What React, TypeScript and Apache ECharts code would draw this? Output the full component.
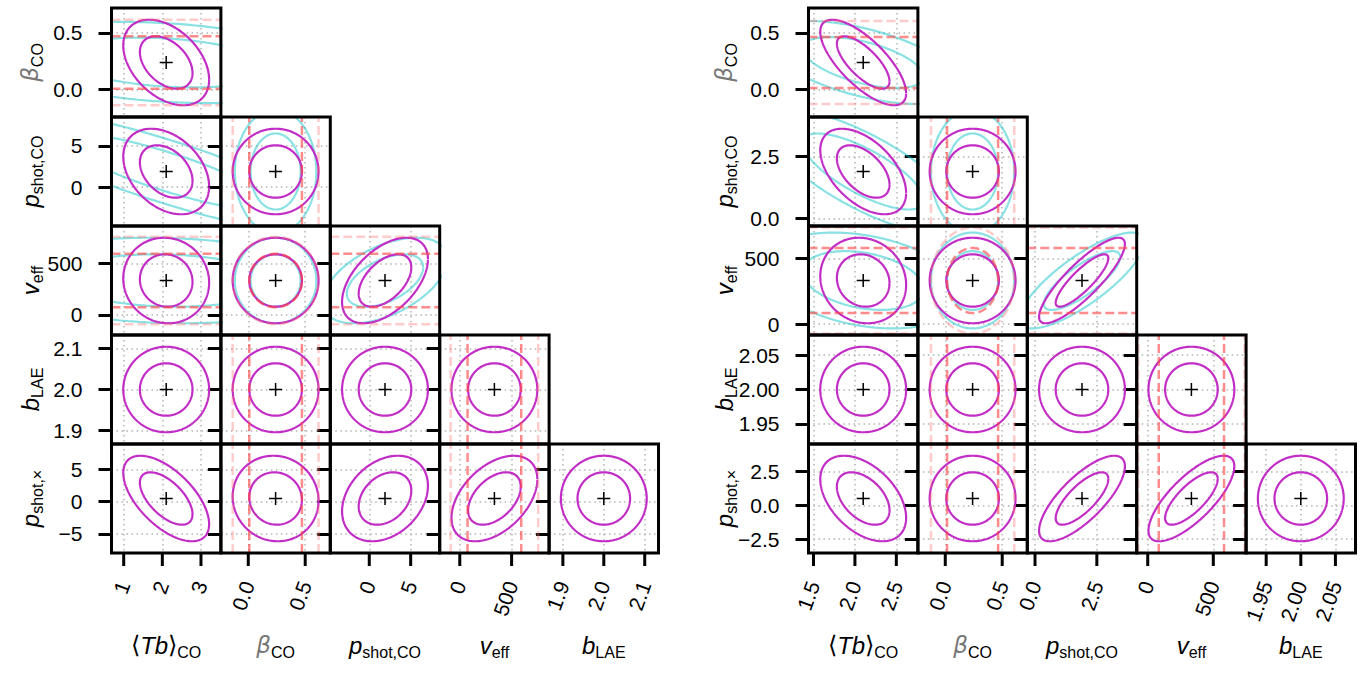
import React, { useEffect, useRef } from "react";
import * as echarts from "echarts";

// ---------------- data ----------------
// parameter order: <Tb>_CO, beta_CO, p_shot,CO, v_eff, b_LAE, p_shot,x
const leftFiducial = [2.1, 0.24, 1.9, 334, 2.0, 0.5];
const leftSigma = [0.448, 0.152, 2.09, 167, 0.0423, 2.69];
const leftCorr = [
  [-0.4],
  [-0.35, 0.0],
  [-0.05, 0.0, 0.5],
  [0.0, 0.0, 0.0, 0.0],
  [-0.6, -0.05, 0.3, 0.45, 0.0],
];
const leftCyanScale = [4.0, 0.95, 1.45, 1.0];
const leftCyanCorr = [[-0.25], [-0.85, 0.0], [-0.1, 0.0, 0.5]];
const leftRedScale = [null, 1.0, null, 1.02, null, null];
const leftTicks = [[1, 2, 3], [0, 0.5], [0, 5], [0, 500], [1.9, 2.0, 2.1], [-5, 0, 5]];
const leftTickLabels = [
  ["1", "2", "3"],
  ["0.0", "0.5"],
  ["0", "5"],
  ["0", "500"],
  ["1.9", "2.0", "2.1"],
  ["\u22125", "0", "5"],
];

const rightFiducial = [2.1, 0.24, 1.9, 333, 2.0, 0.5];
const rightSigma = [0.209, 0.152, 0.7, 132, 0.025, 1.275];
const rightCorr = [
  [-0.72],
  [-0.5, 0.0],
  [-0.1, 0.0, 0.85],
  [0.0, 0.0, 0.0, 0.0],
  [-0.45, 0.0, 0.75, 0.75, 0.0],
];
const rightCyanScale = [2.3, 0.97, 1.45, 1.12];
const rightCyanCorr = [[-0.55], [-0.75, 0.0], [-0.3, 0.0, 0.8]];
const rightRedScale = [null, 0.97, null, 1.24, null, null];
const rightTicks = [[1.5, 2.0, 2.5], [0, 0.5], [0, 2.5], [0, 500], [1.95, 2.0, 2.05], [-2.5, 0, 2.5]];
const rightTickLabels = [
  ["1.5", "2.0", "2.5"],
  ["0.0", "0.5"],
  ["0.0", "2.5"],
  ["0", "500"],
  ["1.95", "2.00", "2.05"],
  ["\u22122.5", "0.0", "2.5"],
];

const contourLevels = [1.52, 2.48];

// ---------------- layout / style ----------------
const FONT = '"Liberation Sans", Arial, Helvetica, sans-serif';
const TRI_LEFT = [111.5, 808.5];
const ROW_TOP = 8;
const CELL_W = 109.4;
const CELL_H = 109;
const RANGE_K = 3.16;
const YTITLE_X = [30, 724];
const XTITLE_Y = 645;
const TICK_LEN = 13;

const MAGENTA = "#c22dc6";
const CYAN = "rgba(20,195,200,0.5)";
const RED_IN = "rgba(255,70,70,0.62)";
const RED_OUT = "rgba(255,110,110,0.35)";

const triangles = [
  {
    fid: leftFiducial, sig: leftSigma, corr: leftCorr, cyanScale: leftCyanScale,
    cyanCorr: leftCyanCorr, redScale: leftRedScale, ticks: leftTicks, labels: leftTickLabels,
  },
  {
    fid: rightFiducial, sig: rightSigma, corr: rightCorr, cyanScale: rightCyanScale,
    cyanCorr: rightCyanCorr, redScale: rightRedScale, ticks: rightTicks, labels: rightTickLabels,
  },
];

const richStyles: any = {
  n: { fontSize: 24, fontFamily: '"DejaVu Sans", sans-serif', fontWeight: 200, fill: "#000", color: "#000", lineHeight: 34 },
  m: { fontSize: 24, fontFamily: FONT, fontStyle: "italic", fill: "#000", color: "#000", lineHeight: 34 },
  g: { fontSize: 23, fontFamily: '"DejaVu Sans", sans-serif', fontStyle: "italic", fontWeight: 200, fill: "#777", color: "#777", lineHeight: 34 },
  s: { fontSize: 16, fontFamily: FONT, fill: "#000", color: "#000", lineHeight: 17, padding: [15, 0, 0, 0] },
};
const paramTitles = [
  "{n|\u27E8}{m|Tb}{n|\u27E9}{s|CO}",
  "{g|\u03B2}{s|CO}",
  "{m|p}{s|shot,CO}",
  "{m|v}{s|eff}",
  "{m|b}{s|LAE}",
  "{m|p}{s|shot,\u00D7}",
];

function axisRange(tri: any, p: number): [number, number] {
  return [tri.fid[p] - RANGE_K * tri.sig[p], tri.fid[p] + RANGE_K * tri.sig[p]];
}

function axisCfg(tri: any, p: number, g: number, dim: "x" | "y", labelled: boolean) {
  const [lo, hi] = axisRange(tri, p);
  const ticks = tri.ticks[p];
  const labels = tri.labels[p];
  const fmt = (v: number) => {
    let best = 0;
    for (let i = 1; i < ticks.length; i++) {
      if (Math.abs(ticks[i] - v) < Math.abs(ticks[best] - v)) best = i;
    }
    return labels[best];
  };
  return {
    type: "value",
    gridIndex: g,
    min: lo,
    max: hi,
    z: 1,
    position: dim === "x" ? "bottom" : "left",
    axisLine: { show: false, onZero: false },
    axisTick: {
      show: dim === "y",
      inside: false,
      length: TICK_LEN,
      customValues: ticks,
      lineStyle: { color: "#000", width: 3 },
    },
    axisLabel: {
      show: labelled,
      customValues: ticks,
      formatter: fmt,
      margin: 29,
      rotate: dim === "x" ? 70 : 0,
      fontSize: 21,
      fontFamily: FONT,
      color: "#000",
    },
    splitLine: {
      show: true,
      lineStyle: { color: "#b4b4b4", width: 1.5, type: [1.5, 3.5] },
    },
  };
}

function ellipse(g: number, cx: number, cy: number, sx: number, sy: number, rho: number, k: number,
  color: string, width: number, dash: any, z: number) {
  const pts: number[][] = [];
  const n = 360;
  const c = Math.sqrt(1 - rho * rho);
  for (let s = 0; s <= n; s++) {
    const th = (2 * Math.PI * s) / n;
    const u = Math.cos(th);
    const v = Math.sin(th);
    pts.push([cx + k * sx * u, cy + k * sy * (rho * u + c * v)]);
  }
  return {
    type: "line", xAxisIndex: g, yAxisIndex: g, data: pts, showSymbol: false, symbol: "none",
    silent: true, clip: true, z, lineStyle: { color, width, type: dash }, animation: false,
  };
}

function segment(g: number, a: number[], b: number[], color: string, width: number, dash: any, z: number) {
  return {
    type: "line", xAxisIndex: g, yAxisIndex: g, data: [a, b], showSymbol: false, symbol: "none",
    silent: true, clip: true, z, lineStyle: { color, width, type: dash }, animation: false,
  };
}

function panels() {
  const out: number[][] = [];
  let g = 0;
  triangles.forEach((_tri, t) => {
    for (let i = 0; i < 5; i++) {
      for (let j = 0; j <= i; j++) {
        out.push([t, i, j, g]);
        g++;
      }
    }
  });
  return out;
}

function buildOption() {
  const grid: any[] = [];
  const xAxis: any[] = [];
  const yAxis: any[] = [];
  const series: any[] = [];
  const graphic: any[] = [];
  const DASH = [9, 4];

  panels().forEach(([t, i, j, g]) => {
    const tri = triangles[t];
    const yp = i + 1;
    const xp = j;
    grid.push({
      left: TRI_LEFT[t] + j * CELL_W, top: ROW_TOP + i * CELL_H, width: CELL_W, height: CELL_H,
      show: true, borderColor: "#000", borderWidth: 3, backgroundColor: "transparent",
      z: 10, containLabel: false, outerBoundsMode: "none",
    });
    xAxis.push(axisCfg(tri, xp, g, "x", i === 4));
    yAxis.push(axisCfg(tri, yp, g, "y", j === 0));
    const cx = tri.fid[xp];
    const cy = tri.fid[yp];
    const [xlo, xhi] = axisRange(tri, xp);
    const [ylo, yhi] = axisRange(tri, yp);
    if (yp <= 3 && xp <= 3) {
      const r = tri.cyanCorr[yp - 1][xp];
      contourLevels.forEach((k) => {
        series.push(ellipse(g, cx, cy, tri.cyanScale[xp] * tri.sig[xp], tri.cyanScale[yp] * tri.sig[yp], r, k, CYAN, 2.2, "solid", 2));
      });
    }
    const rm = tri.corr[yp - 1][xp];
    contourLevels.forEach((k) => {
      series.push(ellipse(g, cx, cy, tri.sig[xp], tri.sig[yp], rm, k, MAGENTA, 2.2, "solid", 3));
    });
    const rx = tri.redScale[xp];
    const ry = tri.redScale[yp];
    contourLevels.forEach((k, li) => {
      const col = li === 0 ? RED_IN : RED_OUT;
      if (rx != null && ry != null) {
        series.push(ellipse(g, cx, cy, rx * tri.sig[xp], ry * tri.sig[yp], 0, k, col, 2.5, DASH, 4));
      } else if (ry != null) {
        const d = k * ry * tri.sig[yp];
        series.push(segment(g, [xlo, cy + d], [xhi, cy + d], col, 2.5, DASH, 4));
        series.push(segment(g, [xlo, cy - d], [xhi, cy - d], col, 2.5, DASH, 4));
      } else if (rx != null) {
        const d = k * rx * tri.sig[xp];
        series.push(segment(g, [cx + d, ylo], [cx + d, yhi], col, 2.5, DASH, 4));
        series.push(segment(g, [cx - d, ylo], [cx - d, yhi], col, 2.5, DASH, 4));
      }
    });
    series.push({
      type: "scatter", xAxisIndex: g, yAxisIndex: g, data: [[cx, cy]], silent: true, z: 6,
      symbol: "path://M0,6L12,6M6,0L6,12", symbolSize: 13,
      itemStyle: { color: "none", borderColor: "#000", borderWidth: 1.5, opacity: 1 },
    });
  });

  triangles.forEach((_tri, t) => {
    for (let p = 0; p < 5; p++) {
      graphic.push({
        type: "text", x: TRI_LEFT[t] + (p + 0.5) * CELL_W, y: XTITLE_Y, silent: true,
        style: {
          text: paramTitles[p], rich: richStyles, align: "center", verticalAlign: "middle",
          textAlign: "center", textVerticalAlign: "middle", fill: "#000",
        },
      });
    }
    for (let p = 1; p < 6; p++) {
      graphic.push({
        type: "text", x: YTITLE_X[t], y: ROW_TOP + (p - 0.5) * CELL_H, rotation: Math.PI / 2, silent: true,
        style: {
          text: paramTitles[p], rich: richStyles, align: "center", verticalAlign: "middle",
          textAlign: "center", textVerticalAlign: "middle", fill: "#000",
        },
      });
    }
  });

  return {
    animation: false,
    backgroundColor: "#fff",
    grid, xAxis, yAxis, series, graphic,
  };
}

export default function App() {
  const ref = useRef<HTMLDivElement>(null);
  useEffect(() => {
    const chart = echarts.init(ref.current as HTMLDivElement, null, { renderer: "svg" });
    const option: any = buildOption();
    chart.setOption(option);
    // x-axis ticks under the bottom row, placed through each axis' own scale
    const tickMarks: any[] = [];
    panels().forEach(([t, i, j, g]) => {
      if (i !== 4) return;
      const tri = triangles[t];
      const yBottom = Number(chart.convertToPixel({ yAxisIndex: g } as any, axisRange(tri, 5)[0]));
      tri.ticks[j].forEach((v: number) => {
        const px = Number(chart.convertToPixel({ xAxisIndex: g } as any, v));
        tickMarks.push({
          type: "rect", silent: true, z: 20,
          shape: { x: px - 1.5, y: yBottom, width: 3, height: TICK_LEN },
          style: { fill: "#000" },
        });
      });
    });
    chart.setOption({ graphic: [...option.graphic, ...tickMarks] });
    return () => chart.dispose();
  }, []);
  return (
    <div
      ref={ref}
      style={{ position: "fixed", left: 0, top: 0, width: "1371px", height: "675px", background: "#fff" }}
    />
  );
}
